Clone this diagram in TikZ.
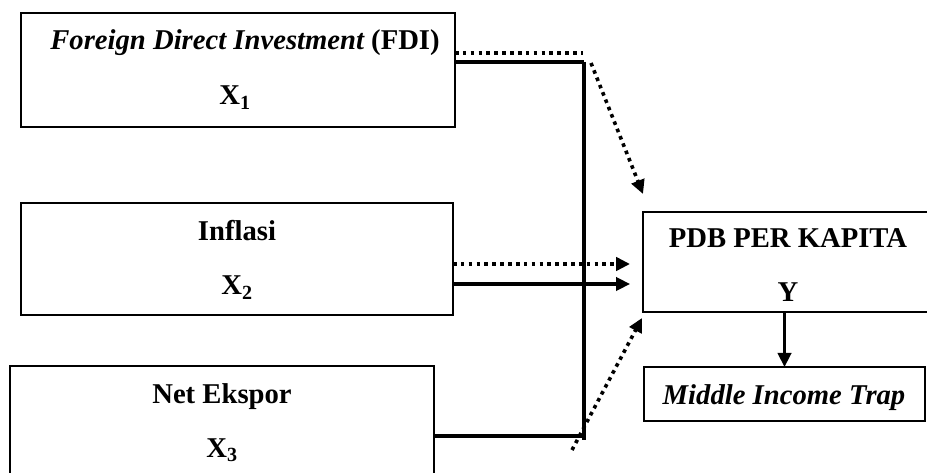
\documentclass[tikz,border=0pt]{standalone}
\usepackage{fontspec}
\setmainfont{Liberation Serif}
\usetikzlibrary{arrows.meta}
\begin{document}
\begin{tikzpicture}[x=0.75pt,y=-0.75pt,
  box/.style={draw,line width=1.2pt,inner sep=0pt,outer sep=0pt},
  lbl/.style={anchor=base,inner sep=0pt,font=\fontsize{21.5}{25}\selectfont\bfseries},
  solidline/.style={line width=2.3pt},
  thickline/.style={line width=3pt},
  dotline/.style={line width=2.7pt,dash pattern=on 2.7pt off 3.2pt},
  tip/.style={-{Triangle[length=10.5pt,width=10pt]}}
]
\useasboundingbox (0,0) rectangle (927,473);
% boxes
\node[box,minimum width=325.5pt,minimum height=85.5pt] (fdi) at (238,70) {};
\node[box,minimum width=324pt,minimum height=84pt] (inf) at (237,259) {};
\node[box,minimum width=318pt,minimum height=93pt] (nex) at (222,428) {};
\node[box,minimum width=219pt,minimum height=75pt] (pdb) at (789,262) {};
\node[box,minimum width=210.75pt,minimum height=40.5pt] (mit) at (784.5,394) {};
% texts
\node[lbl] (tfdi) at (245,50) {\itshape Foreign Direct Investment \upshape(FDI)};
\node[lbl] (tx1) at (235,105) {X\textsubscript{1}};
\node[lbl] (tinf) at (237,241) {Inflasi};
\node[lbl] (tx2) at (237,295) {X\textsubscript{2}};
\node[lbl] (tnex) at (222,403) {Net Ekspor};
\node[lbl] (tx3) at (222,457) {X\textsubscript{3}};
\node[lbl] (tpdb) at (788,248) {PDB PER KAPITA};
\node[lbl] (ty) at (788,302) {Y};
\node[lbl] (tmit) at (784,404) {\itshape Middle Income Trap};
% coordinates
\coordinate (d1) at (583,53);
\coordinate (d2) at (591,63);
\coordinate (d2t) at (643,194);
\coordinate (s1) at (584,62);
\coordinate (s2) at (584,440);
\coordinate (s3) at (584,436);
\coordinate (d3) at (572,450);
\coordinate (d3t) at (642,318);
% FDI connectors
\draw[dotline] (fdi.east |- 0,53) -- (d1);
\draw[dotline,tip] (d2) -- (d2t);
\draw[solidline] (fdi.east |- 0,62) -- (s1);
\draw[thickline] (s1) -- (s2);
% Inflasi connectors
\draw[dotline,tip] (inf.east |- 0,264) -- (630,264);
\draw[solidline,tip] (inf.east |- 0,284) -- (630,284);
% Net ekspor connectors
\draw[solidline] (nex.east |- 0,436) -- (s3);
\draw[dotline,tip] (d3) -- (d3t);
% Y -> MIT
\draw[solidline,tip] (pdb.south -| mit.north) -- (mit.north);
\end{tikzpicture}
\end{document}
